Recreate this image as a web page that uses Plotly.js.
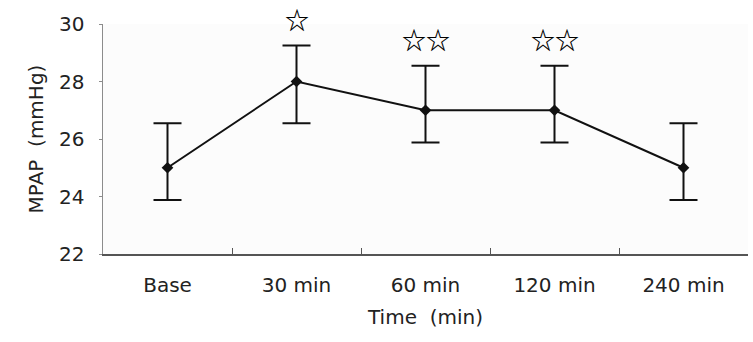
<!DOCTYPE html>
<html>
<head>
<meta charset="utf-8">
<script src="https://cdn.plot.ly/plotly-3.0.1.min.js"></script>
<style>html,body{margin:0;padding:0;background:#fff;}#chart{width:753px;height:342px;}</style>
</head>
<body>
<div id="chart"></div>
<script>
var categories = ['Base', '30 min', '60 min', '120 min', '240 min'];
var mpap = [25, 28, 27, 27, 25];
var errorUp = [1.55, 1.25, 1.55, 1.55, 1.55];
var errorDown = [1.12, 1.45, 1.12, 1.12, 1.12];
var significance = ['', '\u2606', '\u2606\u2606', '\u2606\u2606', ''];
var yTickVals = [22, 24, 26, 28, 30];

var FONT = 'DejaVu Sans, Arial, sans-serif';
var STAR_FONT = 'Noto Sans CJK JP, DejaVu Sans, sans-serif';

var trace = {
  type: 'scatter',
  mode: 'lines+markers',
  x: categories,
  y: mpap,
  line: {color: '#111111', width: 2},
  marker: {symbol: 'diamond', size: 9, color: '#111111'},
  error_y: {
    type: 'data',
    symmetric: false,
    array: errorUp,
    arrayminus: errorDown,
    color: '#111111',
    thickness: 2,
    width: 14
  },
  cliponaxis: false,
  showlegend: false,
  hoverinfo: 'x+y'
};

var annotations = [];
for (var i = 0; i < categories.length; i++) {
  if (significance[i]) {
    annotations.push({
      x: categories[i],
      y: mpap[i] + errorUp[i],
      xref: 'x', yref: 'y',
      text: significance[i],
      showarrow: false,
      yanchor: 'middle',
      yshift: 27,
      font: {family: STAR_FONT, size: 24, color: '#000000', weight: 'bold'}
    });
  }
}

var layout = {
  width: 753,
  height: 342,
  margin: {l: 103, r: 5, t: 24, b: 88},
  paper_bgcolor: '#ffffff',
  plot_bgcolor: '#fcfcfc',
  font: {family: FONT, size: 20, color: '#222222'},
  xaxis: {
    type: 'category',
    categoryorder: 'array',
    categoryarray: categories,
    range: [-0.5, 4.5],
    showline: true,
    linecolor: '#555555',
    linewidth: 1.5,
    ticks: 'inside',
    tickson: 'boundaries',
    ticklen: 6,
    tickcolor: '#555555',
    tickwidth: 1,
    showgrid: false,
    zeroline: false,
    tickfont: {family: FONT, size: 20, color: '#222222'},
    ticklabelstandoff: 12,
    title: {text: 'Time\u00a0 (min)', font: {family: FONT, size: 20, color: '#222222'}, standoff: 14}
  },
  yaxis: {
    range: [22, 30],
    tickvals: yTickVals,
    showline: true,
    linecolor: '#8c8c8c',
    linewidth: 1.5,
    ticks: 'outside',
    ticklen: 3,
    tickcolor: '#8c8c8c',
    tickwidth: 1,
    showgrid: false,
    zeroline: false,
    tickfont: {family: FONT, size: 20, color: '#222222'},
    ticklabelstandoff: 10,
    title: {text: 'MPAP\u00a0 (mmHg)', font: {family: FONT, size: 20, color: '#222222'}, standoff: 10}
  },
  annotations: annotations
};

Plotly.newPlot('chart', [trace], layout, {displayModeBar: false, staticPlot: true});
</script>
</body>
</html>
